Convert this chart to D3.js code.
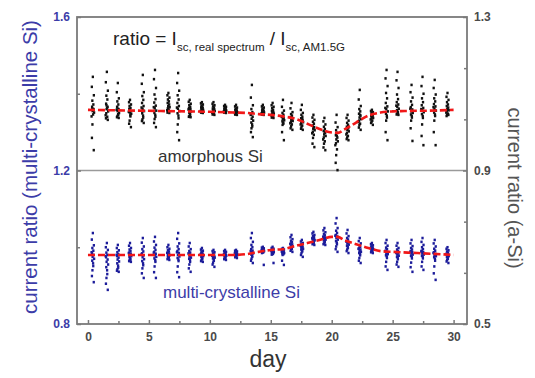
<!DOCTYPE html>
<html><head><meta charset="utf-8">
<script src="https://cdn.jsdelivr.net/npm/d3@7"></script>
<style>html,body{margin:0;padding:0;background:#fff;}svg{display:block;font-family:"Liberation Sans",Arial,sans-serif;}</style>
</head><body><svg id="c" width="535" height="378"></svg>
<script>
// ---- data ----
const xMajorTicks = [0, 5, 10, 15, 20, 25, 30];
const xMinorTicks = [2.5, 7.5, 12.5, 17.5, 22.5, 27.5];
const leftMajorTicks = [0.8, 1.2, 1.6];
const leftMinorTicks = [1.0, 1.4];
const rightMajorTicks = [0.5, 0.9, 1.3];
const rightMinorTicks = [0.6333, 0.7667, 1.0333, 1.1667];
// sample hours of each measurement within a day (same order as values)
const hours = [12, 10, 14, 11, 13, 10.5, 13.5, 11.5, 14.5, 10.8, 12.5, 9.5, 12.8, 11.2, 10.2, 13.8];
// day of each measurement cluster
const days = [0.4, 1.55, 2.45, 3.45, 4.5, 5.5, 6.6, 7.4, 8.35, 9.35, 10.3, 11.25, 12.15, 13.45, 14.35, 15.15, 16.0, 16.7, 17.55, 18.5, 19.4, 20.4, 21.3, 22.3, 23.3, 24.5, 25.4, 26.55, 27.45, 28.45, 29.5];
// amorphous Si current ratio (right axis)
const aSi = [
[1.144,1.118,1.096,1.082,1.072,1.066,1.060,1.055,1.051,1.062,1.046,1.041,1.057,1.020,0.985,0.953],
[1.157,1.130,1.108,1.095,1.085,1.074,1.066,1.060,1.054,1.049,1.063,1.044,1.040,1.070,1.036,1.032],
[1.128,1.104,1.088,1.080,1.072,1.066,1.060,1.055,1.050,1.064,1.047,1.058,1.045,1.042,1.039,1.037],
[1.084,1.078,1.072,1.068,1.063,1.059,1.055,1.051,1.048,1.061,1.044,1.053,1.041,1.030,1.022,1.013],
[1.149,1.126,1.104,1.094,1.084,1.076,1.068,1.061,1.055,1.049,1.043,1.064,1.038,1.033,1.029,1.024],
[1.162,1.138,1.115,1.098,1.086,1.077,1.069,1.062,1.056,1.050,1.045,1.065,1.040,1.034,1.024,1.013],
[1.102,1.096,1.090,1.085,1.080,1.076,1.072,1.068,1.065,1.062,1.059,1.057,1.055,1.053,1.051,1.050],
[1.154,1.128,1.108,1.096,1.085,1.076,1.068,1.061,1.055,1.049,1.043,1.064,1.036,1.020,1.000,0.979],
[1.084,1.079,1.074,1.070,1.066,1.063,1.060,1.057,1.054,1.051,1.048,1.059,1.045,1.042,1.040,1.039],
[1.078,1.075,1.072,1.069,1.066,1.064,1.062,1.060,1.058,1.056,1.061,1.055,1.054,1.052,1.051,1.050],
[1.078,1.074,1.070,1.067,1.064,1.061,1.059,1.057,1.055,1.053,1.060,1.051,1.050,1.048,1.046,1.045],
[1.071,1.068,1.066,1.064,1.062,1.060,1.058,1.057,1.056,1.055,1.059,1.054,1.053,1.052,1.051,1.050],
[1.071,1.067,1.064,1.061,1.059,1.057,1.055,1.053,1.052,1.051,1.056,1.050,1.049,1.047,1.046,1.045],
[1.123,1.090,1.070,1.060,1.052,1.046,1.040,1.035,1.030,1.025,1.020,1.045,1.015,1.010,1.000,0.987],
[1.071,1.067,1.064,1.061,1.058,1.056,1.054,1.052,1.051,1.050,1.055,1.049,1.048,1.047,1.046,1.045],
[1.076,1.070,1.066,1.062,1.058,1.055,1.052,1.050,1.048,1.046,1.053,1.044,1.042,1.040,1.038,1.037],
[1.084,1.066,1.056,1.050,1.045,1.041,1.037,1.034,1.031,1.028,1.025,1.040,1.022,1.019,1.000,0.979],
[1.076,1.062,1.052,1.047,1.043,1.039,1.035,1.032,1.029,1.026,1.037,1.023,1.020,1.015,1.010,1.006],
[1.071,1.058,1.050,1.045,1.040,1.036,1.032,1.029,1.026,1.023,1.034,1.020,1.017,1.013,1.009,1.006],
[1.045,1.038,1.032,1.027,1.022,1.017,1.013,1.009,1.005,1.001,1.012,0.997,0.993,0.985,0.970,0.961],
[1.037,1.028,1.020,1.014,1.008,1.003,0.998,0.994,0.990,0.986,1.000,0.981,0.976,0.970,0.960,0.953],
[1.045,1.025,1.013,1.005,0.998,0.992,0.986,0.981,0.976,0.971,0.990,0.966,0.955,0.940,0.920,0.901],
[1.045,1.037,1.030,1.024,1.019,1.014,1.010,1.006,1.002,0.998,1.012,0.994,0.990,0.986,0.982,0.979],
[1.110,1.085,1.068,1.060,1.054,1.048,1.043,1.038,1.034,1.030,1.045,1.026,1.022,1.018,1.012,1.006],
[1.058,1.055,1.052,1.049,1.046,1.043,1.041,1.039,1.037,1.035,1.044,1.033,1.030,1.027,1.024,1.019],
[1.162,1.140,1.120,1.102,1.088,1.076,1.067,1.060,1.054,1.048,1.043,1.063,1.038,1.030,1.000,0.979],
[1.157,1.135,1.115,1.098,1.086,1.078,1.072,1.066,1.061,1.057,1.053,1.069,1.050,1.048,1.046,1.045],
[1.123,1.104,1.090,1.080,1.071,1.065,1.059,1.054,1.050,1.046,1.042,1.061,1.038,1.030,1.010,0.977],
[1.144,1.120,1.100,1.088,1.078,1.070,1.063,1.057,1.052,1.047,1.042,1.060,1.037,1.020,0.990,0.966],
[1.136,1.115,1.098,1.088,1.080,1.073,1.067,1.061,1.056,1.051,1.046,1.065,1.042,1.030,1.000,0.966],
[1.102,1.092,1.084,1.078,1.072,1.068,1.064,1.060,1.057,1.054,1.062,1.051,1.048,1.045,1.042,1.045]
];
// multi-crystalline Si current ratio (left axis)
const mcSi = [
[1.037,1.020,1.005,0.998,0.991,0.985,0.980,0.975,0.970,0.965,0.958,0.987,0.951,0.940,0.925,0.909],
[1.011,1.000,0.993,0.986,0.980,0.974,0.968,0.962,0.955,0.948,0.940,0.977,0.930,0.920,0.905,0.889],
[1.006,0.998,0.992,0.987,0.982,0.977,0.973,0.968,0.963,0.958,0.952,0.980,0.947,0.943,0.939,0.936],
[1.011,1.004,0.998,0.994,0.990,0.986,0.983,0.980,0.977,0.974,0.971,0.985,0.968,0.966,0.964,0.962],
[1.024,1.012,1.002,0.995,0.989,0.984,0.979,0.974,0.969,0.964,0.958,0.982,0.953,0.945,0.932,0.920],
[1.027,1.015,1.006,0.999,0.993,0.988,0.983,0.979,0.975,0.971,0.966,0.986,0.962,0.950,0.935,0.920],
[1.006,1.000,0.996,0.992,0.989,0.986,0.983,0.981,0.979,0.977,0.975,0.985,0.973,0.971,0.969,0.967],
[1.037,1.022,1.010,1.002,0.995,0.990,0.985,0.980,0.976,0.972,0.968,0.987,0.964,0.950,0.935,0.922],
[1.011,1.002,0.995,0.990,0.986,0.982,0.979,0.976,0.973,0.970,0.966,0.984,0.962,0.955,0.945,0.936],
[0.998,0.994,0.991,0.988,0.985,0.983,0.981,0.979,0.977,0.975,0.973,0.982,0.970,0.967,0.964,0.962],
[0.993,0.990,0.987,0.984,0.981,0.979,0.977,0.975,0.973,0.971,0.968,0.978,0.965,0.960,0.955,0.949],
[0.993,0.990,0.988,0.986,0.984,0.982,0.980,0.979,0.978,0.977,0.975,0.981,0.973,0.971,0.969,0.967],
[0.993,0.991,0.989,0.987,0.985,0.984,0.983,0.982,0.981,0.980,0.979,0.984,0.977,0.976,0.974,0.972],
[1.037,1.024,1.014,1.006,1.000,0.995,0.991,0.987,0.984,0.981,0.978,0.990,0.975,0.970,0.965,0.959],
[1.001,0.999,0.997,0.995,0.994,0.993,0.992,0.991,0.990,0.989,0.988,0.992,0.987,0.986,0.985,0.954],
[1.001,0.998,0.996,0.994,0.992,0.990,0.989,0.988,0.987,0.986,0.985,0.990,0.983,0.982,0.981,0.959],
[0.998,0.996,0.994,0.992,0.990,0.988,0.987,0.986,0.985,0.984,0.983,0.989,0.982,0.980,0.965,0.954],
[1.032,1.026,1.021,1.017,1.013,1.010,1.007,1.004,1.002,1.000,0.998,1.008,0.996,0.994,0.991,0.988],
[1.019,1.015,1.011,1.008,1.005,1.002,1.000,0.998,0.996,0.994,0.992,1.004,0.989,0.985,0.980,0.975],
[1.040,1.036,1.032,1.029,1.026,1.024,1.022,1.020,1.018,1.016,1.014,1.023,1.012,1.010,1.008,1.006],
[1.050,1.044,1.039,1.035,1.031,1.028,1.025,1.022,1.020,1.018,1.016,1.027,1.013,1.010,1.008,1.006],
[1.076,1.062,1.050,1.043,1.037,1.032,1.028,1.024,1.020,1.016,1.012,1.030,1.008,1.002,0.995,0.988],
[1.045,1.036,1.029,1.024,1.020,1.016,1.013,1.010,1.007,1.004,1.001,1.015,0.998,0.994,0.990,0.985],
[1.024,1.016,1.010,1.005,1.001,0.997,0.994,0.991,0.988,0.985,0.982,0.996,0.979,0.972,0.965,0.959],
[1.011,1.008,1.005,1.003,1.001,0.999,0.997,0.996,0.995,0.994,0.992,0.998,0.990,0.989,0.987,0.985],
[1.019,1.011,1.004,0.999,0.995,0.991,0.988,0.985,0.982,0.979,0.976,0.990,0.972,0.962,0.950,0.941],
[1.011,1.004,0.998,0.994,0.990,0.987,0.984,0.981,0.978,0.975,0.972,0.985,0.969,0.962,0.955,0.949],
[1.019,1.010,1.003,0.998,0.994,0.990,0.987,0.984,0.981,0.978,0.975,0.988,0.971,0.960,0.948,0.936],
[1.024,1.014,1.006,1.000,0.995,0.991,0.987,0.984,0.981,0.978,0.975,0.989,0.971,0.962,0.950,0.941],
[1.019,1.010,1.002,0.996,0.991,0.987,0.983,0.980,0.977,0.974,0.970,0.985,0.965,0.950,0.932,0.915],
[1.000,0.996,0.992,0.989,0.986,0.983,0.981,0.979,0.977,0.975,0.973,0.982,0.970,0.967,0.963,0.959]
];
// smoothed trend (red dashed)
const trendDaysA = [0, 2, 4, 6, 8, 10, 12, 13, 14, 15, 16, 17, 18, 19, 20, 20.5, 21, 22, 23, 24, 25, 26, 28, 30];
const trendA = [1.058, 1.057, 1.056, 1.055, 1.054, 1.053, 1.051, 1.050, 1.047, 1.045, 1.041, 1.035, 1.022, 1.008, 0.999, 0.998, 1.006, 1.025, 1.043, 1.051, 1.054, 1.055, 1.056, 1.058];
const trendDaysM = [0, 4, 8, 12, 13, 14, 15, 16, 17, 18, 19, 20, 20.5, 21, 22, 23, 24, 25, 27, 30];
const trendM = [0.980, 0.980, 0.980, 0.980, 0.982, 0.988, 0.993, 0.995, 1.003, 1.011, 1.019, 1.027, 1.027, 1.019, 1.008, 0.998, 0.990, 0.988, 0.985, 0.980];

// ---- drawing ----
const svg = d3.select("#c");
const L = 77, R = 467, T = 17, B = 324;
const x = d3.scaleLinear().domain([-0.9, 31.1]).range([L, R]);
const yL = d3.scaleLinear().domain([0.8, 1.6]).range([B, T]);
const yR = d3.scaleLinear().domain([0.5, 1.3]).range([B, T]);

const frameCol = "#7a7a7a";
const blueTxt = "#3c3ca8";
const grayTxt = "#4a4a4a";

svg.append("line").attr("x1", L).attr("x2", R).attr("y1", yL(1.2)).attr("y2", yL(1.2))
  .attr("stroke", "#9a9a9a").attr("stroke-width", 1.3);

const timeOf = (d, h) => d + (h - 12) / 24;
const mw = 2.3, mh = 2.6;
const gA = svg.append("g");
aSi.forEach((vals, i) => {
  gA.selectAll(null).data(vals).enter().append("rect")
    .attr("x", (v, j) => x(timeOf(days[i], hours[j])) - mw / 2)
    .attr("y", v => yR(v) - mh / 2)
    .attr("width", mw).attr("height", mh)
    .attr("fill", "#111");
});
const gM = svg.append("g");
mcSi.forEach((vals, i) => {
  gM.selectAll(null).data(vals).enter().append("rect")
    .attr("x", (v, j) => x(timeOf(days[i], hours[j])) - mw / 2)
    .attr("y", v => yL(v) - mh / 2)
    .attr("width", mw).attr("height", mh)
    .attr("fill", "#1c1c9a");
});

const lineA = d3.line().x((d, i) => x(trendDaysA[i])).y(d => yR(d)).curve(d3.curveMonotoneX);
const lineM = d3.line().x((d, i) => x(trendDaysM[i])).y(d => yL(d)).curve(d3.curveMonotoneX);
svg.append("path").attr("d", lineA(trendA)).attr("fill", "none").attr("stroke", "#f01818")
  .attr("stroke-width", 2.6).attr("stroke-dasharray", "7,3");
svg.append("path").attr("d", lineM(trendM)).attr("fill", "none").attr("stroke", "#f01818")
  .attr("stroke-width", 2.6).attr("stroke-dasharray", "7,3");

function styleAxis(g, col) {
  g.select(".domain").remove();
  g.selectAll(".tick line").attr("stroke", frameCol).attr("stroke-width", 1.5);
  g.selectAll(".tick text").attr("fill", col).attr("font-size", 12).attr("font-weight", "bold")
    .attr("font-family", "'Liberation Sans',Arial,sans-serif");
}
const fmt1 = d3.format(".1f");
svg.append("g").attr("transform", `translate(0,${B})`)
  .call(d3.axisBottom(x).tickValues(xMajorTicks).tickSize(-4).tickPadding(8).tickFormat(d3.format("d")))
  .call(g => styleAxis(g, grayTxt));
svg.append("g").attr("transform", `translate(0,${B})`)
  .call(d3.axisBottom(x).tickValues(xMinorTicks).tickSize(-3).tickFormat(""))
  .call(g => styleAxis(g, grayTxt));
svg.append("g").attr("transform", `translate(${L},0)`)
  .call(d3.axisLeft(yL).tickValues(leftMajorTicks).tickSize(-4).tickPadding(7).tickFormat(fmt1))
  .call(g => styleAxis(g, blueTxt));
svg.append("g").attr("transform", `translate(${L},0)`)
  .call(d3.axisLeft(yL).tickValues(leftMinorTicks).tickSize(-3).tickFormat(""))
  .call(g => styleAxis(g, blueTxt));
svg.append("g").attr("transform", `translate(${R},0)`)
  .call(d3.axisRight(yR).tickValues(rightMajorTicks).tickSize(-4).tickPadding(7).tickFormat(fmt1))
  .call(g => styleAxis(g, grayTxt));
svg.append("g").attr("transform", `translate(${R},0)`)
  .call(d3.axisRight(yR).tickValues(rightMinorTicks).tickSize(-3).tickFormat(""))
  .call(g => styleAxis(g, grayTxt));

svg.append("rect").attr("x", L).attr("y", T).attr("width", R - L).attr("height", B - T)
  .attr("fill", "none").attr("stroke", frameCol).attr("stroke-width", 1.8);

const t = svg.append("text").attr("x", 113).attr("y", 45).attr("fill", "#222").attr("font-size", 19);
t.append("tspan").text("ratio = I");
t.append("tspan").attr("font-size", 11.5).attr("dy", 6).text("sc, real spectrum");
t.append("tspan").attr("dy", -6).text(" / I");
t.append("tspan").attr("font-size", 11.5).attr("dy", 6).text("sc, AM1.5G");

svg.append("text").attr("x", 158).attr("y", 162).attr("font-size", 17).attr("fill", "#333").text("amorphous Si");
svg.append("text").attr("x", 163).attr("y", 298).attr("font-size", 17).attr("fill", blueTxt).text("multi-crystalline Si");

svg.append("text").attr("x", 268).attr("y", 367).attr("text-anchor", "middle").attr("font-size", 23)
  .attr("fill", "#333").text("day");
svg.append("text").attr("transform", "translate(37,167) rotate(-90)").attr("text-anchor", "middle")
  .attr("font-size", 20.5).attr("fill", blueTxt).text("current ratio (multi-crystalline Si)");
svg.append("text").attr("transform", "translate(508,188) rotate(90)").attr("text-anchor", "middle")
  .attr("font-size", 20).attr("fill", "#555").text("current ratio (a-Si)");
</script></body></html>
